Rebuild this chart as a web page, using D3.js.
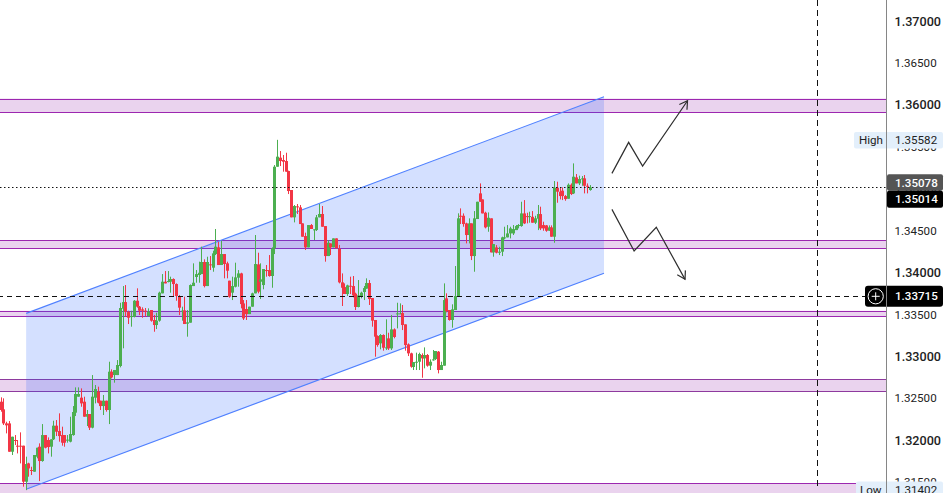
<!DOCTYPE html>
<html><head><meta charset="utf-8">
<script src="https://cdn.jsdelivr.net/npm/d3@7/dist/d3.min.js"></script>
<style>html,body{margin:0;padding:0;background:#fff;overflow:hidden}svg{display:block;font-family:Roboto,"Liberation Sans",sans-serif}</style>
</head><body><svg id="c" width="949" height="493"></svg>
<script>
const opens=[1.32457,1.32366,1.32198,1.32198,1.31860,1.32000,1.31932,1.31932,1.31932,1.31502,1.31721,1.31642,1.31622,1.31801,1.31920,1.31749,1.32059,1.32000,1.31920,1.32008,1.32171,1.32107,1.32059,1.32059,1.31996,1.31980,1.32059,1.32326,1.32517,1.32505,1.32457,1.32278,1.32310,1.32147,1.32505,1.32576,1.32469,1.32405,1.32469,1.32358,1.32815,1.32775,1.32775,1.32883,1.33567,1.33646,1.33527,1.33471,1.33471,1.33662,1.33591,1.33559,1.33543,1.33479,1.33551,1.33432,1.33372,1.33424,1.33750,1.33889,1.33889,1.33889,1.33921,1.33861,1.33718,1.33539,1.33547,1.33388,1.33400,1.33837,1.33945,1.33969,1.33980,1.34124,1.33837,1.34096,1.34056,1.34219,1.34299,1.34088,1.34219,1.34108,1.33901,1.33758,1.33829,1.33937,1.33988,1.33630,1.33563,1.33503,1.33591,1.33750,1.34096,1.33889,1.33849,1.34028,1.34028,1.33957,1.34287,1.35261,1.35369,1.35341,1.35329,1.35210,1.34983,1.34657,1.34788,1.34776,1.34585,1.34434,1.34299,1.34565,1.34506,1.34506,1.34657,1.34697,1.34553,1.34195,1.34346,1.34299,1.34406,1.34283,1.33881,1.33825,1.33742,1.33841,1.33837,1.33746,1.33587,1.33710,1.33766,1.33806,1.33873,1.33694,1.33432,1.33241,1.33153,1.33253,1.33097,1.33213,1.33093,1.33320,1.33503,1.33503,1.33515,1.33380,1.33141,1.33034,1.32871,1.32930,1.32934,1.33014,1.32974,1.33014,1.32887,1.32954,1.32966,1.33054,1.32835,1.32887,1.33690,1.33551,1.33432,1.33551,1.33718,1.34676,1.34676,1.34585,1.34446,1.34585,1.34195,1.34637,1.34943,1.34871,1.34712,1.34545,1.34645,1.34239,1.34298,1.34235,1.34247,1.34414,1.34418,1.34465,1.34465,1.34505,1.34553,1.34553,1.34704,1.34672,1.34664,1.34664,1.34593,1.34641,1.34696,1.34565,1.34561,1.34497,1.34537,1.34426,1.35010,1.34963,1.34975,1.34911,1.34879,1.35046,1.34943,1.35134,1.35062,1.35114,1.35122,1.35034,1.34983];
const closes=[1.32358,1.32198,1.32175,1.31860,1.32039,1.31988,1.31924,1.31924,1.31502,1.31713,1.31661,1.31634,1.31821,1.31908,1.31749,1.32059,1.31908,1.31916,1.32008,1.32171,1.32099,1.32047,1.31968,1.31968,1.32004,1.32071,1.32334,1.32549,1.32549,1.32437,1.32278,1.32310,1.32147,1.32517,1.32608,1.32445,1.32405,1.32469,1.32358,1.32815,1.32747,1.32835,1.32895,1.33575,1.33646,1.33531,1.33459,1.33479,1.33662,1.33591,1.33543,1.33543,1.33531,1.33531,1.33424,1.33372,1.33424,1.33758,1.33889,1.33869,1.33897,1.33921,1.33861,1.33718,1.33579,1.33543,1.33384,1.33404,1.33849,1.33877,1.33980,1.33996,1.34124,1.33837,1.34124,1.34088,1.34227,1.34307,1.34088,1.34219,1.34100,1.34020,1.33710,1.33837,1.33941,1.33988,1.33622,1.33451,1.33503,1.33591,1.33750,1.34100,1.33770,1.33917,1.34040,1.34020,1.33957,1.34287,1.35261,1.35381,1.35329,1.35321,1.35202,1.34971,1.34657,1.34792,1.34776,1.34577,1.34426,1.34299,1.34565,1.34518,1.34514,1.34657,1.34697,1.34545,1.34195,1.34354,1.34299,1.34406,1.34287,1.33881,1.33817,1.33742,1.33845,1.33829,1.33726,1.33587,1.33726,1.33758,1.33813,1.33873,1.33682,1.33424,1.33233,1.33133,1.33253,1.33101,1.33105,1.33093,1.33320,1.33229,1.33511,1.33511,1.33372,1.33133,1.33034,1.32875,1.32930,1.32934,1.33026,1.32974,1.33014,1.32887,1.32934,1.32962,1.33062,1.32835,1.32895,1.33670,1.33539,1.33432,1.33559,1.33718,1.34645,1.34664,1.34577,1.34446,1.34585,1.34195,1.34645,1.34843,1.34843,1.34704,1.34537,1.34652,1.34239,1.34338,1.34235,1.34247,1.34418,1.34418,1.34465,1.34525,1.34517,1.34553,1.34565,1.34704,1.34585,1.34664,1.34672,1.34593,1.34645,1.34696,1.34525,1.34525,1.34497,1.34537,1.34426,1.35010,1.34963,1.34911,1.34911,1.34875,1.35046,1.34935,1.35142,1.35062,1.35114,1.35122,1.35034,1.35022,1.35014];
const highs=[1.32509,1.32497,1.32218,1.32226,1.32039,1.32059,1.32000,1.32091,1.31932,1.31801,1.31729,1.31681,1.31821,1.31908,1.31960,1.32190,1.32059,1.32031,1.32008,1.32230,1.32238,1.32318,1.32159,1.32059,1.32059,1.32278,1.32405,1.32628,1.32628,1.32616,1.32517,1.32358,1.32310,1.32775,1.32656,1.32636,1.32469,1.32537,1.32469,1.32934,1.32843,1.32835,1.32954,1.33638,1.33837,1.33849,1.33543,1.33543,1.33670,1.33810,1.33599,1.33583,1.33575,1.33571,1.33551,1.33491,1.33519,1.33770,1.33980,1.34016,1.34016,1.33949,1.33929,1.33869,1.33730,1.33591,1.33710,1.33551,1.33857,1.34108,1.34028,1.34128,1.34307,1.34156,1.34187,1.34195,1.34259,1.34518,1.34366,1.34378,1.34219,1.34128,1.33901,1.33949,1.34116,1.34028,1.33996,1.33670,1.33670,1.33591,1.33758,1.34446,1.34235,1.34108,1.34040,1.34088,1.34207,1.34299,1.35281,1.35582,1.35448,1.35401,1.35428,1.35214,1.34983,1.34804,1.34816,1.34804,1.34585,1.34474,1.34565,1.34577,1.34514,1.34685,1.34816,1.34792,1.34553,1.34386,1.34346,1.34406,1.34406,1.34327,1.33988,1.33869,1.33853,1.33949,1.33957,1.33758,1.33909,1.33770,1.33837,1.33929,1.33909,1.33694,1.33432,1.33249,1.33264,1.33261,1.33440,1.33280,1.33491,1.33332,1.33638,1.33630,1.33611,1.33380,1.33153,1.33042,1.32930,1.33042,1.33042,1.33034,1.33105,1.33026,1.32962,1.33074,1.33062,1.33062,1.32934,1.33869,1.33750,1.33551,1.33619,1.34076,1.34705,1.34764,1.34704,1.34593,1.34645,1.34585,1.34732,1.34843,1.35062,1.34871,1.34724,1.34716,1.34645,1.34338,1.34326,1.34306,1.34426,1.34545,1.34565,1.34545,1.34565,1.34565,1.34577,1.34843,1.34863,1.34712,1.34724,1.34732,1.34676,1.34804,1.34784,1.34605,1.34565,1.34561,1.34561,1.35090,1.35082,1.35014,1.35014,1.34923,1.35062,1.35062,1.35301,1.35174,1.35154,1.35150,1.35162,1.35062,1.35042];
const lows=[1.32338,1.32179,1.32079,1.31860,1.31821,1.31940,1.31840,1.31721,1.31443,1.31402,1.31562,1.31582,1.31622,1.31781,1.31510,1.31741,1.31900,1.31840,1.31801,1.32000,1.32047,1.31980,1.31932,1.31920,1.31968,1.31972,1.32051,1.32286,1.32517,1.32397,1.32278,1.32167,1.32119,1.32139,1.32437,1.32437,1.32358,1.32298,1.32338,1.32190,1.32735,1.32684,1.32775,1.32867,1.33094,1.33471,1.33384,1.33352,1.33463,1.33579,1.33491,1.33459,1.33471,1.33471,1.33412,1.33292,1.33324,1.33412,1.33750,1.33869,1.33881,1.33758,1.33710,1.33662,1.33491,1.33424,1.33384,1.33233,1.33400,1.33837,1.33877,1.33877,1.33980,1.33821,1.33837,1.34028,1.34008,1.34207,1.34088,1.34088,1.33929,1.33929,1.33698,1.33670,1.33821,1.33829,1.33571,1.33432,1.33432,1.33503,1.33591,1.33750,1.33750,1.33682,1.33798,1.33949,1.33949,1.33817,1.34219,1.35261,1.35269,1.35202,1.35202,1.34935,1.34657,1.34597,1.34697,1.34577,1.34426,1.34267,1.34299,1.34518,1.34386,1.34494,1.34657,1.34545,1.34128,1.34195,1.34207,1.34299,1.34287,1.33869,1.33599,1.33742,1.33718,1.33742,1.33702,1.33551,1.33583,1.33690,1.33670,1.33806,1.33611,1.33352,1.32994,1.33113,1.33082,1.33066,1.33074,1.33074,1.33074,1.33213,1.33332,1.33503,1.33312,1.33066,1.33002,1.32863,1.32835,1.32835,1.32835,1.32743,1.32855,1.32875,1.32835,1.32946,1.32954,1.32795,1.32835,1.32887,1.33523,1.33424,1.33340,1.33551,1.33710,1.34577,1.34545,1.34346,1.34346,1.34147,1.34008,1.34637,1.34843,1.34704,1.34525,1.34485,1.34239,1.34187,1.34227,1.34207,1.34195,1.34394,1.34418,1.34406,1.34446,1.34505,1.34525,1.34545,1.34577,1.34585,1.34593,1.34593,1.34577,1.34505,1.34505,1.34497,1.34485,1.34497,1.34426,1.34354,1.34831,1.34871,1.34863,1.34855,1.34879,1.34923,1.34935,1.35062,1.35042,1.35034,1.34943,1.34943,1.34975];
const tickLabels=[1.37,1.365,1.36,1.355,1.35,1.345,1.34,1.335,1.33,1.325,1.32,1.315];
const zoneTops=[1.36075,1.34382,1.33542,1.32724,1.31483];
const zoneBottoms=[1.35913,1.34287,1.33476,1.32581,1.3125];
const channelBars=[9,217];
const channelUpper=[1.33511,1.36096];
const channelLower=[1.31411,1.33989];
const arrowUpBars=[219.9,226,231.1,247.5];
const arrowUpPrices=[1.35182,1.35552,1.35269,1.36048];
const arrowDownBars=[219.9,228,236.1,246.6];
const arrowDownPrices=[1.34752,1.34255,1.34538,1.33917];
const lastPrice=1.35014, prevPrice=1.35078, crossPrice=1.33715, crossBar=294.9;
const highPrice=1.35582, lowPrice=1.31402;

const W=949,H=493,axisX=886.5;
const svg=d3.select('#c');
const x=d3.scaleLinear().domain([0,43,99,121,164,199,212]).range([1.2,120.3,277.7,339.3,458,554.7,590.3]);
const y=d3.scaleLinear().domain([1.37,1.32]).range([21,440]);
const px=v=>Math.round(v)+0.5;
const GREEN='#4caf50',RED='#f23645',PURPLE='#9c27b0';

// zones
const zones=svg.append('g');
zoneTops.forEach((t,i)=>{
  const x2=i===4?856:axisX;
  zones.append('rect').attr('x',0).attr('width',x2).attr('y',y(t)).attr('height',y(zoneBottoms[i])-y(t)).attr('fill','#ead3ee');
  [t,zoneBottoms[i]].forEach(v=>zones.append('line').attr('x1',0).attr('x2',x2).attr('y1',px(y(v))).attr('y2',px(y(v))).attr('stroke',i===3?'#8e3a9e':PURPLE).attr('stroke-width',1));
});

// channel
const chPts=[[channelBars[0],channelUpper[0]],[channelBars[1],channelUpper[1]],[channelBars[1],channelLower[1]],[channelBars[0],channelLower[0]]];
svg.append('path').attr('d',d3.line().x(d=>x(d[0])).y(d=>y(d[1]))(chPts)+'Z').attr('fill','rgba(41,98,255,0.2)');
[channelUpper,channelLower].forEach(a=>svg.append('line').attr('x1',x(channelBars[0])).attr('x2',x(channelBars[1])).attr('y1',y(a[0])).attr('y2',y(a[1])).attr('stroke','#4f80ff').attr('stroke-width',1.1));

// candles
const idx=d3.range(opens.length);
const g=svg.append('g');
g.selectAll('line').data(idx).join('line')
 .attr('x1',i=>px(x(i)-0.5)).attr('x2',i=>px(x(i)-0.5)).attr('y1',i=>y(highs[i])).attr('y2',i=>y(lows[i]))
 .attr('stroke',i=>closes[i]>=opens[i]?GREEN:RED).attr('stroke-width',1);
g.selectAll('rect').data(idx).join('rect')
 .attr('x',i=>px(x(i)-0.5)-1.5).attr('width',3)
 .attr('y',i=>y(Math.max(opens[i],closes[i])))
 .attr('height',i=>Math.max(1,Math.abs(y(opens[i])-y(closes[i]))))
 .attr('fill',i=>closes[i]>=opens[i]?GREEN:RED);

// arrows
function arrow(bars,prices){
  const pts=bars.map((b,i)=>[x(b),y(prices[i])]);
  const a=pts[pts.length-1],b=pts[pts.length-2];
  const ang=Math.atan2(a[1]-b[1],a[0]-b[0]);
  const head=[[a[0]+9*Math.cos(ang+2.6),a[1]+9*Math.sin(ang+2.6)],a,[a[0]+9*Math.cos(ang-2.6),a[1]+9*Math.sin(ang-2.6)]];
  [pts,head].forEach(p=>svg.append('path').attr('d',d3.line()(p)).attr('fill','none').attr('stroke','#2e2e2e').attr('stroke-width',1.2));
}
arrow(arrowUpBars,arrowUpPrices);
arrow(arrowDownBars,arrowDownPrices);

// price lines
svg.append('line').attr('x1',0).attr('x2',axisX).attr('y1',px(y(lastPrice))).attr('y2',px(y(lastPrice))).attr('stroke','#111').attr('stroke-dasharray','1.5,2.5');
svg.append('line').attr('x1',-2).attr('x2',865).attr('y1',px(y(crossPrice))).attr('y2',px(y(crossPrice))).attr('stroke','#111').attr('stroke-dasharray','5,4');
svg.append('line').attr('x1',px(x(crossBar))).attr('x2',px(x(crossBar))).attr('y1',0).attr('y2',H-6).attr('stroke','#111').attr('stroke-dasharray','6,4');

// axis
svg.append('rect').attr('x',axisX).attr('y',0).attr('width',W-axisX).attr('height',H).attr('fill','#fff');
const axis=d3.axisRight(y).tickValues(tickLabels).tickSize(0).tickPadding(8).tickFormat(d3.format('.5f'));
const ag=svg.append('g').attr('transform',`translate(${axisX},0)`).call(axis);
ag.select('.domain').remove();
const isRound=d=>Math.round(d*1e5)%1000===0;
ag.selectAll('text').attr('font-family','Roboto,"Liberation Sans",sans-serif').attr('fill','#222')
  .attr('font-size',d=>isRound(d)?12.6:11.6).attr('font-weight',d=>isRound(d)?500:400);

function label(x0,x1,cy,h,fill,textColor,txt,r){
  svg.append('rect').attr('x',x0).attr('y',cy-h/2).attr('width',x1-x0).attr('height',h).attr('rx',r||0).attr('fill',fill);
  svg.append('text').attr('x',895).attr('y',cy).attr('dy','0.35em').attr('font-size',11.6).attr('font-weight',fill==='#e3effb'?400:500).attr('fill',textColor).text(txt);
}
label(854,943,140.3,16.5,'#e3effb','#222',d3.format('.5f')(highPrice),2);
svg.append('text').attr('x',859).attr('y',140.3).attr('dy','0.35em').attr('font-size',11.6).attr('fill','#222').text('High');
label(856,943,489.5,16,'#e3effb','#222',d3.format('.5f')(lowPrice),2);
svg.append('text').attr('x',860).attr('y',489.5).attr('dy','0.35em').attr('font-size',11.6).attr('fill','#222').text('Low');
label(887,943,182.5,16.5,'#555555','#fff',d3.format('.5f')(prevPrice),2);
label(887,943,199.2,17,'#000','#fff',d3.format('.5f')(lastPrice),2);
label(865,943,296.3,21,'#000','#fff',d3.format('.5f')(crossPrice),3);
svg.append('circle').attr('cx',875.7).attr('cy',296.3).attr('r',7.6).attr('fill','none').attr('stroke','#fff').attr('stroke-width',1);
svg.append('path').attr('d','M871.7 296.3H879.7M875.7 292.3V300.3').attr('stroke','#fff').attr('stroke-width',1);
svg.append('line').attr('x1',axisX).attr('x2',axisX).attr('y1',0).attr('y2',H).attr('stroke','#868686').attr('stroke-width',1);
</script></body></html>
